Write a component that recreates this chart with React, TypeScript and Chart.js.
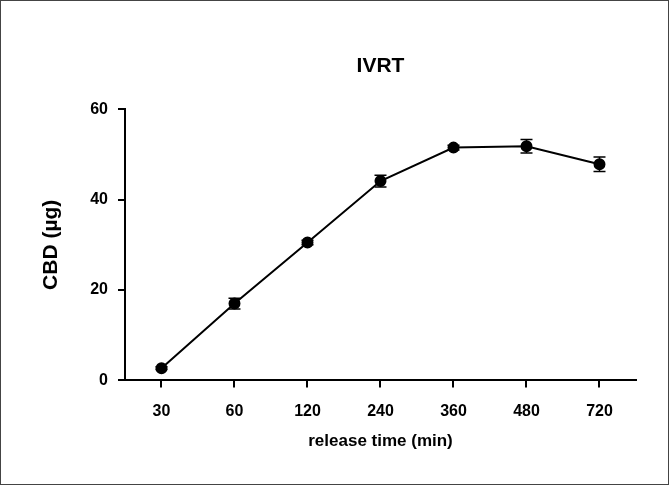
import React, { useEffect, useRef } from 'react';
import { Chart, registerables } from 'chart.js';

Chart.register(...registerables);

const categories = ['30', '60', '120', '240', '360', '480', '720'];
const cbdMean = [2.7, 17.0, 30.5, 44.1, 51.5, 51.8, 47.8];
const cbdSd = [0.3, 1.2, 0.5, 1.3, 0.5, 1.5, 1.6];

const errorBars = {
  id: 'errorBars',
  afterDatasetsDraw(chart) {
    const { ctx } = chart;
    const y = chart.scales.y;
    const meta = chart.getDatasetMeta(0);
    ctx.save();
    ctx.strokeStyle = '#000';
    ctx.lineWidth = 1.5;
    meta.data.forEach((pt, i) => {
      const top = y.getPixelForValue(cbdMean[i] + cbdSd[i]);
      const bot = y.getPixelForValue(cbdMean[i] - cbdSd[i]);
      ctx.beginPath();
      ctx.moveTo(pt.x, top);
      ctx.lineTo(pt.x, bot);
      ctx.moveTo(pt.x - 6, top);
      ctx.lineTo(pt.x + 6, top);
      ctx.moveTo(pt.x - 6, bot);
      ctx.lineTo(pt.x + 6, bot);
      ctx.stroke();
    });
    ctx.restore();
  },
};

const App = () => {
  const canvasRef = useRef(null);

  useEffect(() => {
    if (!canvasRef.current) return;
    const font = { family: 'Arial, Liberation Sans, sans-serif', weight: 'bold' as const };
    const chart = new Chart(canvasRef.current, {
      type: 'line',
      data: {
        labels: categories,
        datasets: [{
          data: cbdMean,
          borderColor: '#000',
          backgroundColor: '#000',
          borderWidth: 2,
          pointRadius: 5,
          pointHoverRadius: 5,
          tension: 0,
        }],
      },
      options: {
        animation: false,
        responsive: false,
        layout: { padding: { left: 34, right: 32, top: 53, bottom: 28 } },
        plugins: {
          legend: { display: false },
          tooltip: { enabled: false },
          title: {
            display: true,
            fullSize: false,
            text: 'IVRT',
            color: '#000',
            font: { ...font, size: 21 },
            padding: { top: 0, bottom: 30 },
          },
        },
        scales: {
          x: {
            offset: true,
            grid: { drawOnChartArea: false, drawTicks: true, tickLength: 7, color: '#000', lineWidth: 2 },
            border: { color: '#000', width: 2 },
            ticks: { color: '#000', font: { ...font, size: 16 }, padding: 15 },
            title: { display: true, text: 'release time (min)', color: '#000', font: { ...font, size: 17 }, padding: { top: -5 } },
          },
          y: {
            min: 0,
            max: 60,
            grid: { drawOnChartArea: false, drawTicks: true, tickLength: 7, color: '#000', lineWidth: 2 },
            border: { color: '#000', width: 2 },
            ticks: { stepSize: 20, color: '#000', font: { ...font, size: 16 }, padding: 10 },
            title: { display: true, text: 'CBD (µg)', color: '#000', font: { ...font, size: 21 }, padding: { bottom: 16 } },
          },
        },
      },
      plugins: [errorBars],
    });
    return () => chart.destroy();
  }, []);

  return (
    <div style={{ position: 'fixed', left: 0, top: 0, width: 667, height: 483, border: '1px solid #444', background: '#fff' }}>
      <canvas ref={canvasRef} width={667} height={483} />
    </div>
  );
};

export default App;
